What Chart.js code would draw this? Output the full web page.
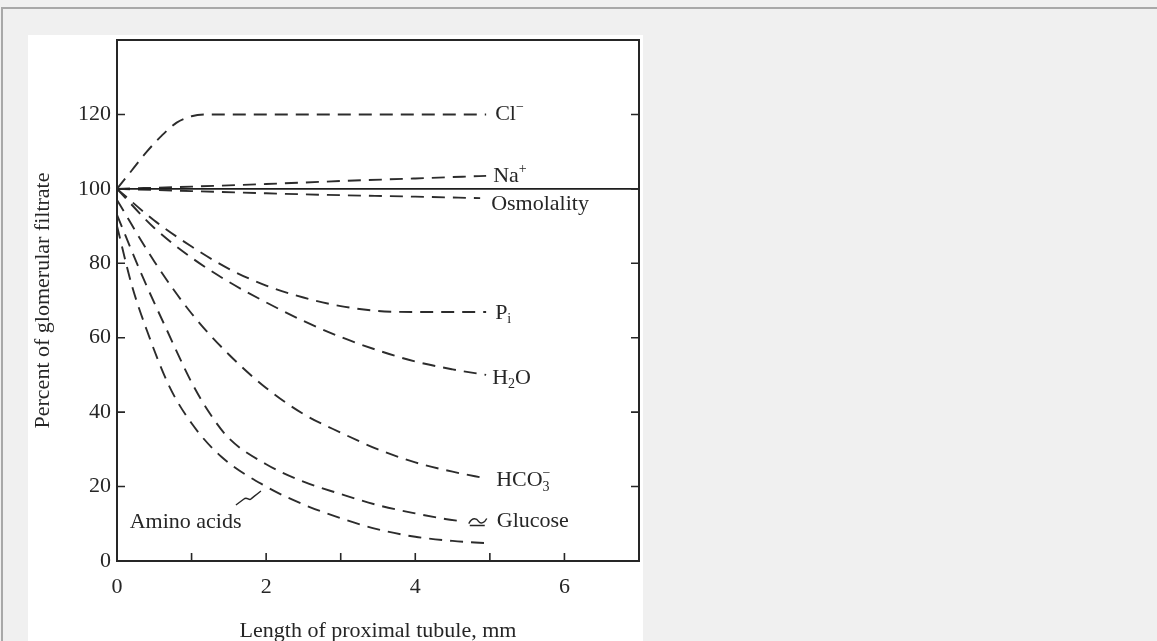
<!DOCTYPE html>
<html lang="en">
<head>
    <meta charset="UTF-8">
    <title>Proximal tubule</title>
    <script src="https://cdn.jsdelivr.net/npm/chart.js"></script>
    <style>
        html, body { margin: 0; padding: 0; background: #f0f0f0; overflow: hidden; }
        .frame { position: absolute; left: 1px; top: 7px; width: 1300px; height: 800px;
                 border-top: 2px solid #a8a8a8; border-left: 2px solid #a8a8a8; }
        .panel { position: absolute; left: 28px; top: 35px; width: 615px; height: 606px; background: #fff; }
        canvas { display: block; }
    </style>
</head>
<body>
    <div class="frame"></div>
    <div class="panel">
        <canvas id="tubuleChart" width="615" height="606"></canvas>
    </div>

    <script>
        // Distance along the proximal tubule (mm) vs. percent of glomerular filtrate
        const clX = [0, 0.2, 0.4, 0.6, 0.8, 1.0, 1.2, 1.6, 4.95];
        const clY = [100, 105, 110, 114.3, 117.8, 119.5, 120, 120, 120];

        const naX = [0, 1, 2, 3, 4, 4.95];
        const naY = [100, 100.6, 101.3, 102.1, 102.8, 103.5];

        const osmX = [0, 1, 2, 3, 4, 4.87];
        const osmY = [100, 99.4, 98.8, 98.3, 97.9, 97.5];

        const refX = [0, 7];
        const refY = [100, 100];

        const piX = [0, 0.5, 1, 1.5, 2, 2.5, 3, 3.5, 4, 4.95];
        const piY = [100, 91.5, 84.5, 78.5, 74, 70.8, 68.5, 67.2, 66.9, 66.9];

        const h2oX = [0, 0.5, 1, 1.5, 2, 2.5, 3, 3.5, 4, 4.5, 4.95];
        const h2oY = [100, 89.5, 81.5, 75, 69.5, 64.5, 60.2, 56.6, 53.6, 51.5, 50];

        const hco3X = [0, 0.5, 1, 1.5, 2, 2.5, 3, 3.5, 4, 4.5, 4.95];
        const hco3Y = [97, 80.5, 66.5, 55.5, 46.5, 39.5, 34.5, 30, 26.5, 24, 22.2];

        const glucoseX = [0, 0.33, 0.67, 1, 1.25, 1.5, 2, 2.5, 3, 3.5, 4, 4.4, 4.65];
        const glucoseY = [93, 77, 62, 48, 39.5, 33, 26, 21.3, 18, 15, 12.8, 11.3, 10.6];

        const aminoX = [0, 0.2, 0.4, 0.7, 1, 1.4, 2, 2.5, 3, 3.5, 4, 4.5, 4.95];
        const aminoY = [90, 74, 62, 47, 37, 28, 20, 15.2, 11.5, 8.5, 6.5, 5.4, 4.8];

        const xTicks = [0, 2, 4, 6];
        const yTicks = [0, 20, 40, 60, 80, 100, 120];

        const SERIF = '"Liberation Serif", "Times New Roman", serif';
        const INK = '#262626';

        const pts = (xs, ys) => xs.map((x, i) => ({ x: x, y: ys[i] }));

        function dashed(id, xs, ys) {
            return {
                label: id,
                data: pts(xs, ys),
                borderColor: '#2c2c2c',
                borderWidth: 1.9,
                borderDash: [13, 8],
                cubicInterpolationMode: 'monotone',
                pointRadius: 0,
                fill: false
            };
        }

        // rich text: [text, kind] where kind is undefined, 'sub', 'sup' or 'subsup'
        function drawParts(ctx, parts, x, y) {
            let cx = x;
            parts.forEach(([text, kind]) => {
                if (!kind) {
                    ctx.font = '22px ' + SERIF;
                    ctx.fillText(text, cx, y);
                    cx += ctx.measureText(text).width;
                } else if (kind === 'sub' || kind === 'sup') {
                    ctx.font = '14px ' + SERIF;
                    ctx.fillText(text, cx, kind === 'sub' ? y + 6 : y - 7);
                    cx += ctx.measureText(text).width;
                } else {
                    ctx.font = '14px ' + SERIF;
                    ctx.fillText(text[0], cx, y + 7);
                    ctx.fillText(text[1], cx, y - 7);
                    cx += Math.max(ctx.measureText(text[0]).width, ctx.measureText(text[1]).width);
                }
            });
            return cx;
        }

        // labels sit just past the end of each curve
        const curveLabels = [
            { id: 'Cl', parts: [['Cl'], ['\u2212', 'sup']], dx: 9, dy: 0 },
            { id: 'Na', parts: [['Na'], ['+', 'sup']], dx: 7, dy: 0 },
            { id: 'Osm', parts: [['Osmolality']], dx: 11, dy: 6 },
            { id: 'Pi', parts: [['P'], ['i', 'sub']], dx: 9, dy: 1 },
            { id: 'H2O', parts: [['H'], ['2', 'sub'], ['O']], dx: 6, dy: 3 },
            { id: 'HCO3', parts: [['HCO'], [['3', '\u2212'], 'subsup']], dx: 10, dy: 2 },
            { id: 'Glucose', parts: [['Glucose']], dx: 33, dy: 0, squiggle: true }
        ];

        const annotate = {
            id: 'annotate',
            afterDatasetsDraw(chart) {
                const ctx = chart.ctx;
                const area = chart.chartArea;
                const xs = chart.scales.x, ys = chart.scales.y;
                ctx.save();

                // frame
                ctx.strokeStyle = INK;
                ctx.lineWidth = 2;
                ctx.strokeRect(area.left, area.top, area.right - area.left, area.bottom - area.top);

                // inward tick marks
                ctx.lineWidth = 1.6;
                ctx.beginPath();
                xs.ticks.forEach(t => {
                    if (t.value <= 0 || t.value >= 7) return;
                    const px = xs.getPixelForValue(t.value);
                    ctx.moveTo(px, area.bottom);
                    ctx.lineTo(px, area.bottom - 8);
                });
                ys.ticks.forEach(t => {
                    if (t.value <= 0 || t.value >= 140) return;
                    const py = ys.getPixelForValue(t.value);
                    ctx.moveTo(area.left, py);
                    ctx.lineTo(area.left + 8, py);
                    ctx.moveTo(area.right, py);
                    ctx.lineTo(area.right - 8, py);
                });
                ctx.stroke();

                ctx.fillStyle = INK;
                ctx.textBaseline = 'middle';
                ctx.textAlign = 'left';

                curveLabels.forEach(lb => {
                    const idx = chart.data.datasets.findIndex(d => d.label === lb.id);
                    const meta = chart.getDatasetMeta(idx);
                    const last = meta.data[meta.data.length - 1];
                    const x = last.x + lb.dx, y = last.y + lb.dy;
                    drawParts(ctx, lb.parts, x, y);
                    if (lb.squiggle) {
                        ctx.lineWidth = 1.4;
                        ctx.beginPath();
                        ctx.moveTo(x - 28, y + 2);
                        ctx.bezierCurveTo(x - 24, y - 5, x - 20, y - 3, x - 18, y);
                        ctx.bezierCurveTo(x - 16, y + 3, x - 12, y + 1, x - 10, y - 3);
                        ctx.moveTo(x - 27, y + 4);
                        ctx.lineTo(x - 12, y + 4);
                        ctx.stroke();
                    }
                });

                // amino acids label with its pointer to the lowest curve
                const ax = xs.getPixelForValue(0.17), ay = ys.getPixelForValue(10.5);
                drawParts(ctx, [['Amino acids']], ax, ay);
                const tx = xs.getPixelForValue(1.93), ty = ys.getPixelForValue(18.8);
                const sx = tx - 25, sy = ty + 14;
                ctx.lineWidth = 1.4;
                ctx.beginPath();
                ctx.moveTo(sx, sy);
                ctx.lineTo(sx + 8, sy - 6);
                ctx.bezierCurveTo(sx + 11, sy - 9, sx + 13, sy - 4, sx + 15, sy - 6);
                ctx.bezierCurveTo(sx + 17, sy - 8, sx + 19, sy - 9, tx, ty);
                ctx.stroke();

                ctx.restore();
            }
        };

        const tickFont = { family: SERIF, size: 22 };

        const ctx = document.getElementById('tubuleChart').getContext('2d');
        const tubuleChart = new Chart(ctx, {
            type: 'line',
            data: {
                datasets: [
                    {
                        label: 'ref',
                        data: pts(refX, refY),
                        borderColor: '#1e1e1e',
                        borderWidth: 1.6,
                        pointRadius: 0,
                        fill: false
                    },
                    dashed('Cl', clX, clY),
                    dashed('Na', naX, naY),
                    dashed('Osm', osmX, osmY),
                    dashed('Pi', piX, piY),
                    dashed('H2O', h2oX, h2oY),
                    dashed('HCO3', hco3X, hco3Y),
                    dashed('Glucose', glucoseX, glucoseY),
                    dashed('Amino', aminoX, aminoY)
                ]
            },
            options: {
                responsive: false,
                animation: false,
                layout: { padding: { left: 0, top: 5, right: 4, bottom: 0 } },
                plugins: {
                    legend: { display: false },
                    tooltip: { enabled: false }
                },
                scales: {
                    x: {
                        type: 'linear',
                        min: 0,
                        max: 7,
                        border: { display: false },
                        grid: { display: false, drawTicks: false },
                        ticks: {
                            stepSize: 1,
                            autoSkip: false,
                            maxRotation: 0,
                            padding: 13,
                            color: INK,
                            font: tickFont,
                            callback: v => xTicks.includes(v) ? v : ''
                        },
                        title: {
                            display: true,
                            text: 'Length of proximal tubule, mm',
                            color: INK,
                            font: { family: SERIF, size: 22, lineHeight: 0.86 },
                            padding: 0
                        },
                        afterFit: s => {
                            s.height = 80;
                            s.paddingLeft = 0; s.paddingRight = 0;
                        }
                    },
                    y: {
                        min: 0,
                        max: 140,
                        border: { display: false },
                        grid: { display: false, drawTicks: false },
                        ticks: {
                            stepSize: 20,
                            padding: 6,
                            color: INK,
                            font: tickFont,
                            callback: v => yTicks.includes(v) ? v : ''
                        },
                        title: {
                            display: true,
                            text: 'Percent of glomerular filtrate',
                            color: INK,
                            font: { family: SERIF, size: 22 },
                            padding: { top: 2, bottom: 0 }
                        },
                        afterFit: s => {
                            s.width = 89;
                            s.paddingTop = 0; s.paddingBottom = 0;
                        }
                    }
                }
            },
            plugins: [annotate]
        });
    </script>
</body>
</html>
